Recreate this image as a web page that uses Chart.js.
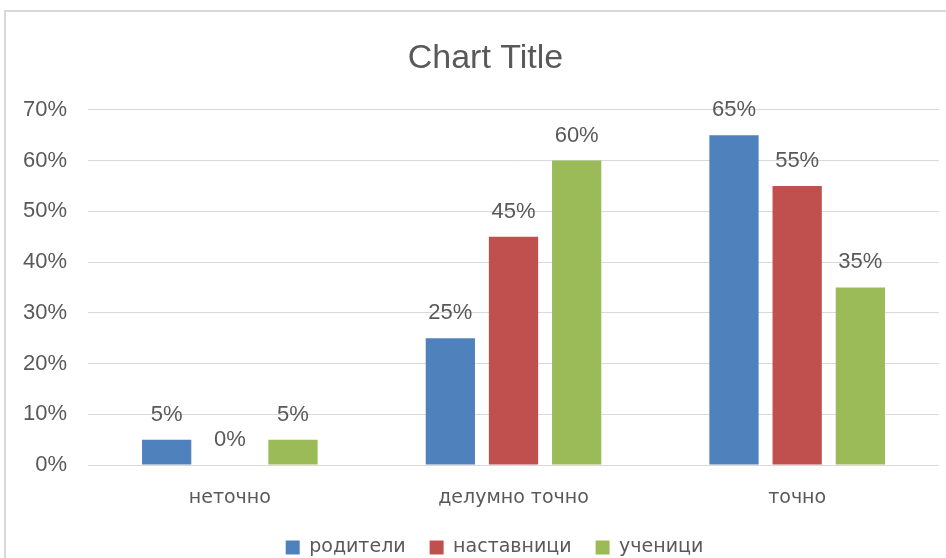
<!DOCTYPE html>
<html lang="mk">
<head>
    <meta charset="UTF-8">
    <title>Chart Title</title>
    <style>
        html, body { margin: 0; padding: 0; background: #fff; }
        body { width: 946px; height: 558px; position: relative; overflow: hidden; }
        .frame { position: absolute; left: 4px; top: 10px; width: 960px; height: 600px;
                 border: 2px solid #d9d9d9; box-sizing: border-box; }
        #chart { position: absolute; left: 0; top: 0; }
    </style>
</head>
<body>
    <div class="frame"></div>
    <canvas id="chart" width="946" height="558"></canvas>

    <script src="https://cdn.jsdelivr.net/npm/chart.js@4/dist/chart.umd.min.js"></script>
    <script>
        // data
        const categories = ["неточно", "делумно точно", "точно"];
        const seriesNames = ["родители", "наставници", "ученици"];
        const roditeli = [5, 25, 65];
        const nastavnici = [0, 45, 55];
        const ucenici = [5, 60, 35];
        const yTicks = [0, 10, 20, 30, 40, 50, 60, 70];

        const colors = ["#4F81BD", "#C0504D", "#9BBB59"];
        const textColor = "#595959";
        const narrow = "'Liberation Sans Narrow', 'Liberation Sans', sans-serif";
        const wide = "'DejaVu Sans', sans-serif";

        // labels above the bars
        const barLabels = {
            id: "barLabels",
            afterDatasetsDraw(chart) {
                const ctx = chart.ctx;
                ctx.save();
                ctx.font = "22px " + narrow;
                ctx.fillStyle = textColor;
                ctx.textAlign = "center";
                ctx.textBaseline = "middle";
                chart.data.datasets.forEach((ds, i) => {
                    chart.getDatasetMeta(i).data.forEach((bar, j) => {
                        ctx.fillText(ds.data[j] + "%", bar.x, bar.y - 25);
                    });
                });
                ctx.restore();
            }
        };

        // title and legend sit centred on the outer frame, not on the canvas
        const shiftBoxes = {
            id: "shiftBoxes",
            afterLayout(chart) {
                chart.titleBlock.left += 16;
                chart.titleBlock.right += 16;
                chart.legend.left += 25;
                chart.legend.right += 25;
            }
        };

        new Chart(document.getElementById("chart"), {
            type: "bar",
            plugins: [barLabels, shiftBoxes],
            data: {
                labels: categories,
                datasets: [
                    { label: seriesNames[0], data: roditeli, backgroundColor: colors[0] },
                    { label: seriesNames[1], data: nastavnici, backgroundColor: colors[1] },
                    { label: seriesNames[2], data: ucenici, backgroundColor: colors[2] }
                ]
            },
            options: {
                responsive: false,
                animation: false,
                layout: { padding: { left: 0, right: 7, top: 0, bottom: -9 } },
                datasets: { bar: { categoryPercentage: 0.668, barPercentage: 0.78 } },
                plugins: {
                    tooltip: { enabled: false },
                    title: {
                        display: true,
                        text: "Chart Title",
                        color: textColor,
                        font: { family: narrow, size: 34, weight: "normal" },
                        padding: { top: 38, bottom: 31 }
                    },
                    legend: {
                        position: "bottom",
                        labels: {
                            color: textColor,
                            boxWidth: 14,
                            boxHeight: 14,
                            padding: 24,
                            font: { family: wide, size: 19 }
                        }
                    }
                },
                scales: {
                    x: {
                        grid: { display: false },
                        border: { display: false },
                        ticks: {
                            color: textColor,
                            padding: 14,
                            font: { family: wide, size: 19 }
                        },
                        afterFit(scale) { scale.height = 49; }
                    },
                    y: {
                        min: 0,
                        max: 70,
                        afterBuildTicks(scale) { scale.ticks = yTicks.map(v => ({ value: v })); },
                        grid: { color: "#d9d9d9", lineWidth: 1, drawTicks: false },
                        border: { display: false },
                        ticks: {
                            color: textColor,
                            padding: 21,
                            font: { family: narrow, size: 22 },
                            callback: v => v + "%"
                        },
                        afterFit(scale) { scale.width = 88; }
                    }
                }
            }
        });
    </script>
</body>
</html>
